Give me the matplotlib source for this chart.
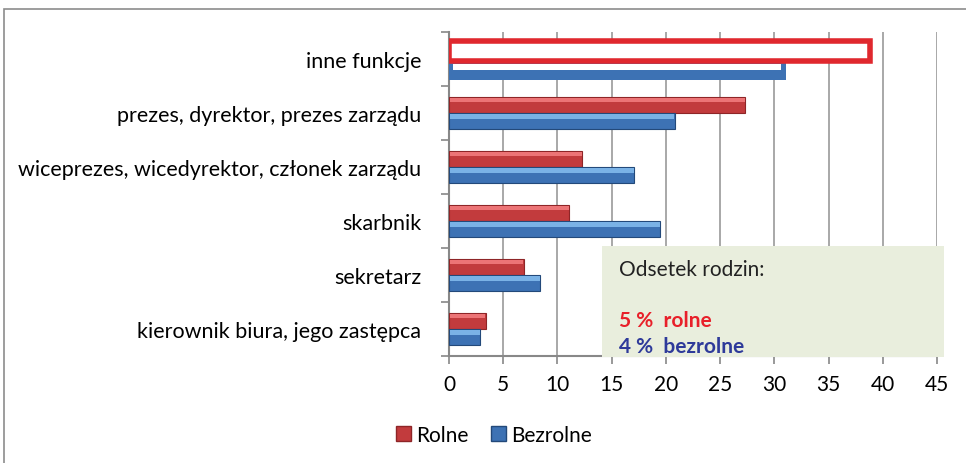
import numpy as np
import matplotlib.pyplot as plt
from matplotlib.patches import Rectangle, Patch

plt.rcParams['font.family'] = ['Lato', 'DejaVu Sans']

# dane
categories = ['inne funkcje', 'prezes, dyrektor, prezes zarządu',
              'wiceprezes, wicedyrektor, członek zarządu', 'skarbnik',
              'sekretarz', 'kierownik biura, jego zastępca']
rolne = [38.8, 27.3, 12.3, 11.1, 6.9, 3.4]
bezrolne = [31.1, 20.8, 17.1, 19.5, 8.4, 2.9]
xticks = [0, 5, 10, 15, 20, 25, 30, 35, 40, 45]

red, red_hi, red_dk = '#C23B3D', '#EC7476', '#8E2527'
blue, blue_hi, blue_dk = '#3D72B4', '#7AB2E6', '#23497A'

fig = plt.figure(figsize=(9.66, 4.64), dpi=100)
ax = fig.add_axes([449/966, 1 - 357/464, 488/966, 324/464])

y = np.arange(len(categories))
h = 0.3
yr = y - h/2
yb = y + h/2

# zwykle slupki z efektem "3D"
for i in range(1, len(categories)):
    ax.barh(yr[i], rolne[i], height=h, color=red, edgecolor=red_dk, lw=0.8, zorder=3)
    ax.barh(yr[i] - h*0.3, rolne[i] - 0.15, left=0.1, height=h*0.3, color=red_hi, lw=0, zorder=4)
    ax.barh(yb[i], bezrolne[i], height=h, color=blue, edgecolor=blue_dk, lw=0.8, zorder=3)
    ax.barh(yb[i] - h*0.3, bezrolne[i] - 0.15, left=0.1, height=h*0.3, color=blue_hi, lw=0, zorder=4)

# wyrozniony wiersz "inne funkcje"
ax.barh(yb[0] + 0.07, bezrolne[0], height=0.33, color=blue, lw=0, zorder=3)
ax.barh(yb[0] - 0.01, bezrolne[0] - 0.9, left=0.4, height=0.11, color='white', lw=0, zorder=4)
ax.barh(yr[0] + 0.0, rolne[0], height=0.36, color='white', edgecolor='#E0282E', lw=4, zorder=5)

ax.set_xlim(0, 45)
ax.set_ylim(len(categories) - 0.5, -0.5)
ax.set_xticks(xticks)
ax.set_xticklabels([str(t) for t in xticks], fontsize=15)
ax.set_yticks(np.arange(len(categories) + 1) - 0.5)
ax.set_yticklabels([])
ax.set_yticks(y, minor=True)
ax.set_yticklabels(categories, minor=True, fontsize=15.5)
ax.tick_params(axis='y', which='minor', length=0, pad=20)
ax.tick_params(axis='y', which='major', length=6, color='#888888', width=1.2)
ax.tick_params(axis='x', length=6, color='#888888', width=1.2, pad=7)
ax.xaxis.grid(True, color='#999999', lw=1.2, zorder=0)
ax.set_axisbelow(True)
for s in ['top', 'right']:
    ax.spines[s].set_visible(False)
for s in ['left', 'bottom']:
    ax.spines[s].set_color('#888888')
    ax.spines[s].set_linewidth(1.5)

# ramka na zewnatrz
fig.patches.append(Rectangle((4/966, -0.1), 1.1, 1 - 10/464 + 0.1, transform=fig.transFigure,
                             fill=False, edgecolor='#8C8C8C', lw=1.2))

# pole tekstowe
fig.patches.append(Rectangle((602/966, 1 - 358/464), 342/966, 111/464, transform=fig.transFigure,
                             facecolor='#E9EEDD', edgecolor='none', zorder=6))
fig.text(619/966, 1 - 270/464, 'Odsetek rodzin:', fontsize=15, color='#222222', va='center', zorder=7)
fig.text(619/966, 1 - 321/464, '5 %  rolne', fontsize=15, color='#E8202A', fontweight='bold', va='center', zorder=7)
fig.text(619/966, 1 - 347/464, '4 %  bezrolne', fontsize=15, color='#2E3A9A', fontweight='bold', va='center', zorder=7)

handles = [Patch(facecolor=red, edgecolor=red_dk), Patch(facecolor=blue, edgecolor=blue_dk)]
fig.legend(handles, ['Rolne', 'Bezrolne'], loc='center', bbox_to_anchor=(494/966, 1 - 436/464),
           ncol=2, frameon=False, fontsize=15, handlelength=0.7, handleheight=0.7,
           handletextpad=0.25, columnspacing=1.1)

plt.savefig('out.png', dpi=100)
